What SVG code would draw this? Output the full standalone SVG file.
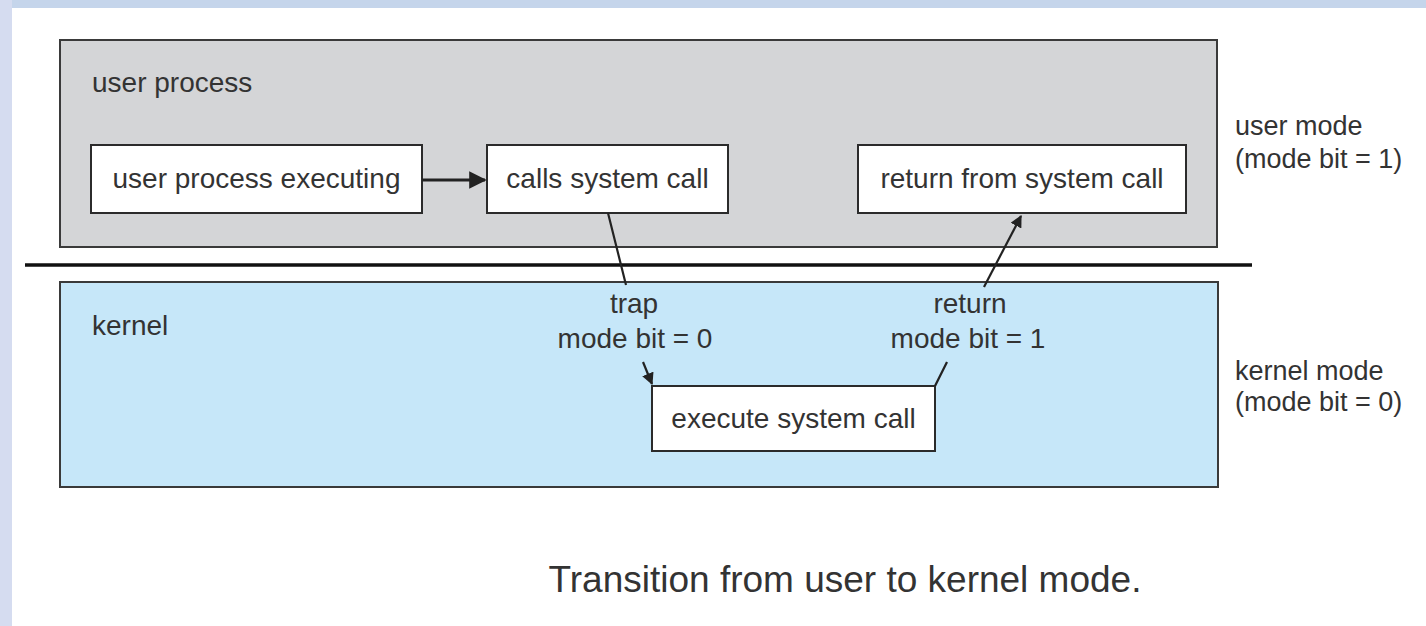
<svg xmlns="http://www.w3.org/2000/svg" width="1426" height="626" viewBox="0 0 1426 626">
  <style>
    text { font-family: "Liberation Sans", Arial, sans-serif; fill: #333; }
    .lbl { font-size: 28px; }
    .side { font-size: 27px; }
    .cap { font-size: 37px; }
    .box { fill: #ffffff; stroke: #2b2b2b; stroke-width: 2; }
    .region { stroke: #3a3a3a; stroke-width: 2; }
    .wire { fill: none; stroke: #222; stroke-width: 2.2; }
    .wire.heavy { stroke-width: 3.2; }
  </style>
  <defs>
    <marker id="head" viewBox="0 0 10 10" refX="9" refY="5" markerWidth="5.5" markerHeight="5.5" orient="auto" markerUnits="strokeWidth">
      <path d="M0,0 L10,5 L0,10 z" fill="#222"/>
    </marker>
  </defs>

  <!-- page background with slide borders -->
  <rect x="0" y="0" width="1426" height="626" fill="#ffffff"/>
  <rect x="0" y="0" width="1426" height="8" fill="#c5d5eb"/>
  <rect x="0" y="0" width="12" height="626" fill="#d5dcf0"/>

  <!-- user space region -->
  <g id="user-process">
    <rect class="region" x="60" y="40" width="1157" height="207" fill="#d4d5d7"/>
    <text class="lbl" x="92" y="92">user process</text>
  </g>

  <!-- kernel region -->
  <g id="kernel">
    <rect class="region" x="60" y="282" width="1158" height="205" fill="#c6e7f9"/>
    <text class="lbl" x="92" y="335">kernel</text>
  </g>

  <!-- user / kernel boundary -->
  <line x1="25" y1="265" x2="1252" y2="265" stroke="#111" stroke-width="3.5"/>

  <g id="user-process-executing">
    <rect class="box" x="91" y="145" width="331" height="68"/>
    <text class="lbl" x="256.5" y="188" text-anchor="middle">user process executing</text>
  </g>

  <g id="calls-system-call">
    <rect class="box" x="487" y="145" width="241" height="68"/>
    <text class="lbl" x="607.5" y="188" text-anchor="middle">calls system call</text>
  </g>

  <g id="return-from-system-call">
    <rect class="box" x="858" y="145" width="328" height="68"/>
    <text class="lbl" x="1022" y="188" text-anchor="middle">return from system call</text>
  </g>

  <g id="execute-system-call">
    <rect class="box" x="652" y="386" width="283" height="65"/>
    <text class="lbl" x="793.5" y="428" text-anchor="middle">execute system call</text>
  </g>

  <!-- connectors -->
  <g id="connectors">
    <line class="wire heavy" x1="422" y1="180" x2="485" y2="180" marker-end="url(#head)"/>
    <line class="wire" x1="608" y1="213" x2="626" y2="285"/>
    <line class="wire" x1="643" y1="362" x2="652" y2="384" marker-end="url(#head)"/>
    <line class="wire" x1="935" y1="386" x2="947" y2="362"/>
    <line class="wire" x1="984" y1="287" x2="1021" y2="216" marker-end="url(#head)"/>
  </g>

  <!-- transition labels -->
  <g id="trap-label">
    <text class="lbl" x="634" y="313" text-anchor="middle">trap</text>
    <text class="lbl" x="635" y="348" text-anchor="middle">mode bit = 0</text>
  </g>
  <g id="return-label">
    <text class="lbl" x="970" y="313" text-anchor="middle">return</text>
    <text class="lbl" x="968" y="348" text-anchor="middle">mode bit = 1</text>
  </g>

  <!-- mode annotations -->
  <g id="user-mode">
    <text class="side" x="1235" y="135">user mode</text>
    <text class="side" x="1235" y="168">(mode bit = 1)</text>
  </g>
  <g id="kernel-mode">
    <text class="side" x="1235" y="380">kernel mode</text>
    <text class="side" x="1235" y="411">(mode bit = 0)</text>
  </g>

  <text class="cap" x="845" y="592" text-anchor="middle">Transition from user to kernel mode.</text>
</svg>
